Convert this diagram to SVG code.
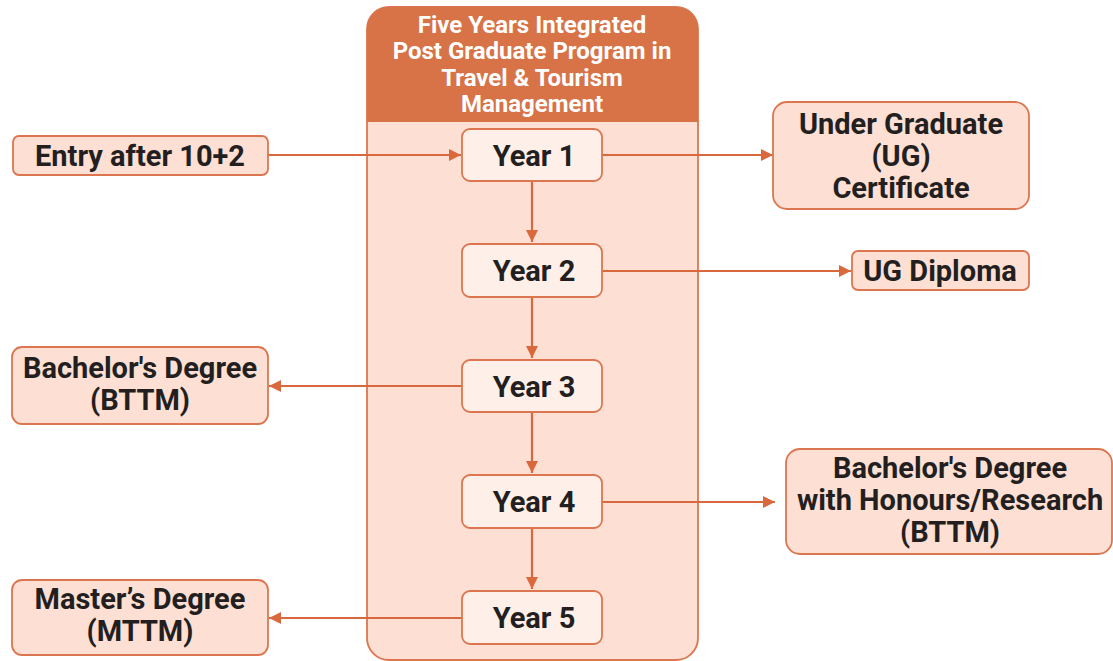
<svg xmlns="http://www.w3.org/2000/svg" width="1113" height="661" viewBox="0 0 1113 661">
<defs>
<style>
.out{fill:#FDDFD3;stroke:#DC7650;stroke-width:1.8}
.yr{fill:#FEF0E9;stroke:#DC7650;stroke-width:1.8}
.t{font-family:Roboto,"Liberation Sans",sans-serif;font-weight:700;font-size:29px;fill:#231F20;text-anchor:middle}
.h{font-family:Roboto,"Liberation Sans",sans-serif;font-weight:700;font-size:24px;fill:#FFFFFF;text-anchor:middle}
.c{fill:none;stroke:#D9693D;stroke-width:2.2}
</style>
<marker id="ah" viewBox="0 0 12 12" refX="12" refY="6" markerWidth="12" markerHeight="12" markerUnits="userSpaceOnUse" orient="auto">
<path d="M0,0 L12,6 L0,12 Z" fill="#D9693D"/>
</marker>
</defs>
<rect width="1113" height="661" fill="#FFFFFF"/>
<g id="container">
<rect x="367" y="7" width="331" height="653" rx="22" fill="#FDDFD3" stroke="#DC7650" stroke-width="1.8"/>
<path d="M367,122 V29 A22,22 0 0 1 389,7 H676 A22,22 0 0 1 698,29 V122 Z" fill="#D87247"/>
<text class="h" x="532" y="33">Five Years Integrated</text>
<text class="h" x="532" y="59">Post Graduate Program in</text>
<text class="h" x="532" y="86">Travel &amp; Tourism</text>
<text class="h" x="532" y="112">Management</text>
</g>
<g id="connectors">
<line class="c" x1="268" y1="155" x2="461" y2="155" marker-end="url(#ah)"/>
<line class="c" x1="602" y1="155" x2="773" y2="155" marker-end="url(#ah)"/>
<line class="c" x1="602" y1="271" x2="851" y2="271" marker-end="url(#ah)"/>
<line class="c" x1="462" y1="386" x2="269" y2="386" marker-end="url(#ah)"/>
<line class="c" x1="602" y1="502" x2="775" y2="502" marker-end="url(#ah)"/>
<line class="c" x1="462" y1="618" x2="269" y2="618" marker-end="url(#ah)"/>
<line class="c" x1="532" y1="181" x2="532" y2="242" marker-end="url(#ah)"/>
<line class="c" x1="532" y1="297" x2="532" y2="358" marker-end="url(#ah)"/>
<line class="c" x1="532" y1="412" x2="532" y2="473" marker-end="url(#ah)"/>
<line class="c" x1="532" y1="528" x2="532" y2="589" marker-end="url(#ah)"/>
</g>
<g id="entry">
<rect class="out" x="13" y="136" width="255" height="39" rx="6"/>
<text class="t" x="140" y="166">Entry after 10+2</text>
</g>
<g id="year1">
<rect class="yr" x="462" y="129" width="140" height="52" rx="8"/>
<text class="t" x="534" y="166">Year 1</text>
</g>
<g id="year2">
<rect class="yr" x="462" y="244" width="140" height="53" rx="8"/>
<text class="t" x="534" y="281">Year 2</text>
</g>
<g id="year3">
<rect class="yr" x="462" y="360" width="140" height="52" rx="8"/>
<text class="t" x="534" y="397">Year 3</text>
</g>
<g id="year4">
<rect class="yr" x="462" y="475" width="140" height="53" rx="8"/>
<text class="t" x="534" y="512">Year 4</text>
</g>
<g id="year5">
<rect class="yr" x="462" y="591" width="140" height="53" rx="8"/>
<text class="t" x="534" y="628">Year 5</text>
</g>
<g id="ug-certificate">
<rect class="out" x="773" y="102" width="256" height="107" rx="14"/>
<text class="t" x="901" y="134">Under Graduate</text>
<text class="t" x="901" y="166">(UG)</text>
<text class="t" x="901" y="198">Certificate</text>
</g>
<g id="ug-diploma">
<rect class="out" x="852" y="251" width="177" height="39" rx="6"/>
<text class="t" x="940" y="281">UG Diploma</text>
</g>
<g id="bachelor">
<rect class="out" x="12" y="347" width="256" height="77" rx="10"/>
<text class="t" x="140" y="378">Bachelor's Degree</text>
<text class="t" x="140" y="410">(BTTM)</text>
</g>
<g id="bachelor-honours">
<rect class="out" x="786" y="449" width="326" height="105" rx="14"/>
<text class="t" x="950" y="478">Bachelor's Degree</text>
<text class="t" x="950" y="510">with Honours/Research</text>
<text class="t" x="950" y="542">(BTTM)</text>
</g>
<g id="master">
<rect class="out" x="12" y="580" width="256" height="75" rx="10"/>
<text class="t" x="140" y="609">Master’s Degree</text>
<text class="t" x="140" y="641">(MTTM)</text>
</g>
</svg>
